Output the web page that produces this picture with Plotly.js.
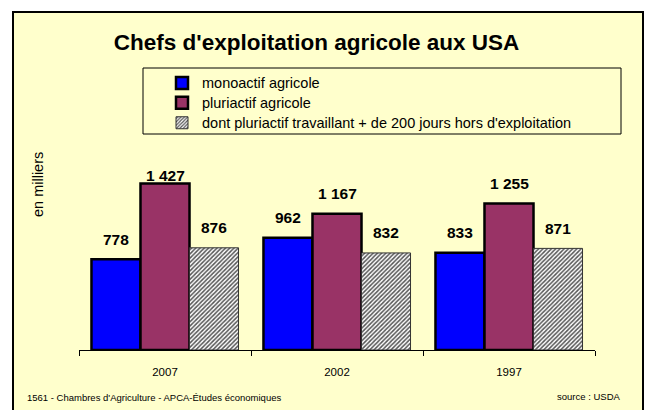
<!DOCTYPE html>
<html><head><meta charset="utf-8">
<script src="https://cdn.plot.ly/plotly-3.0.1.min.js"></script>
<style>html,body{margin:0;padding:0;background:#fff}#chart{width:646px;height:410px}</style>
</head><body><div id="chart"></div>
<script>
const years = ['2007', '2002', '1997'];
const monoactif = [778, 962, 833];
const pluriactif = [1427, 1167, 1255];
const pluriHors = [876, 832, 871];
const seriesNames = ['monoactif agricole', 'pluriactif agricole', "dont pluriactif travaillant + de 200 jours hors d'exploitation"];
const titleText = "Chefs d'exploitation agricole aux USA";
const yLabel = 'en milliers';
const footerLeft = "1561 - Chambres d'Agriculture - APCA-Études économiques";
const footerRight = 'source : USDA';

const FONT = '"Liberation Sans", Arial, sans-serif';
const L = 79, R = 595, T = 140, B = 350, W = 646, H = 410;
const fx = p => (p - L) / (R - L);
const fy = p => (B - p) / (B - T);
const YMAX = 1800;
const pxPerUnit = (B - T) / YMAX;
const BARGAP = 0.145;
const bw = (1 - BARGAP) / 3;
const fmt = v => String(v).replace(/\B(?=(\d{3})+(?!\d))/g, ' ');
const leg = s => '<span style="font-size:14.5px">' + s + '</span>';

const traces = [
  {type: 'bar', x: years, y: monoactif, name: leg(seriesNames[0]),
   marker: {color: '#0000FF', line: {color: '#000', width: 2.5}}},
  {type: 'bar', x: years, y: pluriactif, name: leg(seriesNames[1]),
   marker: {color: '#993366', line: {color: '#000', width: 2.5}}},
  {type: 'bar', x: years, y: pluriHors, name: leg(seriesNames[2]),
   marker: {color: '#ffffff', line: {color: '#333', width: 1},
     pattern: {shape: '/', fgcolor: '#555555', bgcolor: '#ffffff', size: 3, solidity: 0.5}}}
];

const allSeries = [monoactif, pluriactif, pluriHors];
const offsets = [-bw, 0, bw];
const annotations = [];
allSeries.forEach((arr, s) => {
  arr.forEach((v, i) => {
    annotations.push({
      xref: 'x', yref: 'y', x: i + offsets[s],
      y: Math.min(v + 20 / pxPerUnit, 1500),
      text: fmt(v), showarrow: false, xanchor: 'center', yanchor: 'middle',
      font: {family: FONT, size: 15.5, color: '#000', weight: 700}
    });
  });
});
annotations.push({xref: 'paper', yref: 'paper', x: fx(38), y: fy(185), text: yLabel,
  xanchor: 'center', yanchor: 'middle',
  textangle: -90, showarrow: false, font: {family: FONT, size: 14.5, color: '#000'}});
annotations.push({xref: 'paper', yref: 'paper', x: fx(25), y: fy(397), xanchor: 'left', yanchor: 'middle',
  text: footerLeft, showarrow: false, font: {family: FONT, size: 9.5, color: '#000'}});
annotations.push({xref: 'paper', yref: 'paper', x: fx(622), y: fy(396), xanchor: 'right', yanchor: 'middle',
  text: footerRight, showarrow: false, font: {family: FONT, size: 9.5, color: '#000'}});

const layout = {
  width: W, height: H,
  margin: {l: L, r: W - R, t: T, b: H - B, pad: 0, autoexpand: false},
  paper_bgcolor: '#ffffff', plot_bgcolor: 'rgba(0,0,0,0)',
  barmode: 'group', bargap: BARGAP, bargroupgap: 0,
  font: {family: FONT, color: '#000'},
  title: {text: titleText, xref: 'container', yref: 'container', x: 316.5 / W, xanchor: 'center',
    y: 1 - 42 / H, yanchor: 'middle', font: {family: FONT, size: 22.5, weight: 700, color: '#000'}},
  xaxis: {type: 'category', categoryorder: 'array', categoryarray: years, range: [-0.5, 2.5],
    showline: true, linecolor: '#000', linewidth: 1, ticks: 'outside', tickson: 'boundaries',
    ticklen: 5, tickcolor: '#000', tickwidth: 1, showgrid: false, zeroline: false,
    ticklabelstandoff: 11, tickfont: {family: FONT, size: 11.5, color: '#000'}},
  xaxis2: {overlaying: 'x', anchor: 'y', side: 'bottom', range: [-0.5, 2.5],
    tickvals: [-0.5, 0.5, 1.5, 2.5], ticks: 'inside', ticklen: 5, tickcolor: '#000', tickwidth: 1,
    showticklabels: false, showline: false, showgrid: false, zeroline: false},
  yaxis: {range: [0, YMAX], visible: false, fixedrange: true},
  showlegend: true,
  legend: {x: fx(162), xanchor: 'left', y: fy(68), yanchor: 'top', bgcolor: 'rgba(0,0,0,0)',
    borderwidth: 0, font: {family: FONT, size: 13, color: '#000'}, traceorder: 'normal'},
  shapes: [
    {type: 'rect', xref: 'paper', yref: 'paper', x0: fx(13), x1: fx(643), y0: fy(430), y1: fy(12),
      line: {color: '#000', width: 2}, fillcolor: '#FFFFCC', layer: 'below'},
    {type: 'rect', xref: 'paper', yref: 'paper', x0: fx(143), x1: fx(621), y0: fy(134), y1: fy(68),
      line: {color: '#000', width: 1}, fillcolor: 'rgba(0,0,0,0)', layer: 'below'}
  ],
  annotations: annotations
};

Plotly.newPlot('chart', traces, layout, {displayModeBar: false, staticPlot: true});
</script></body></html>
